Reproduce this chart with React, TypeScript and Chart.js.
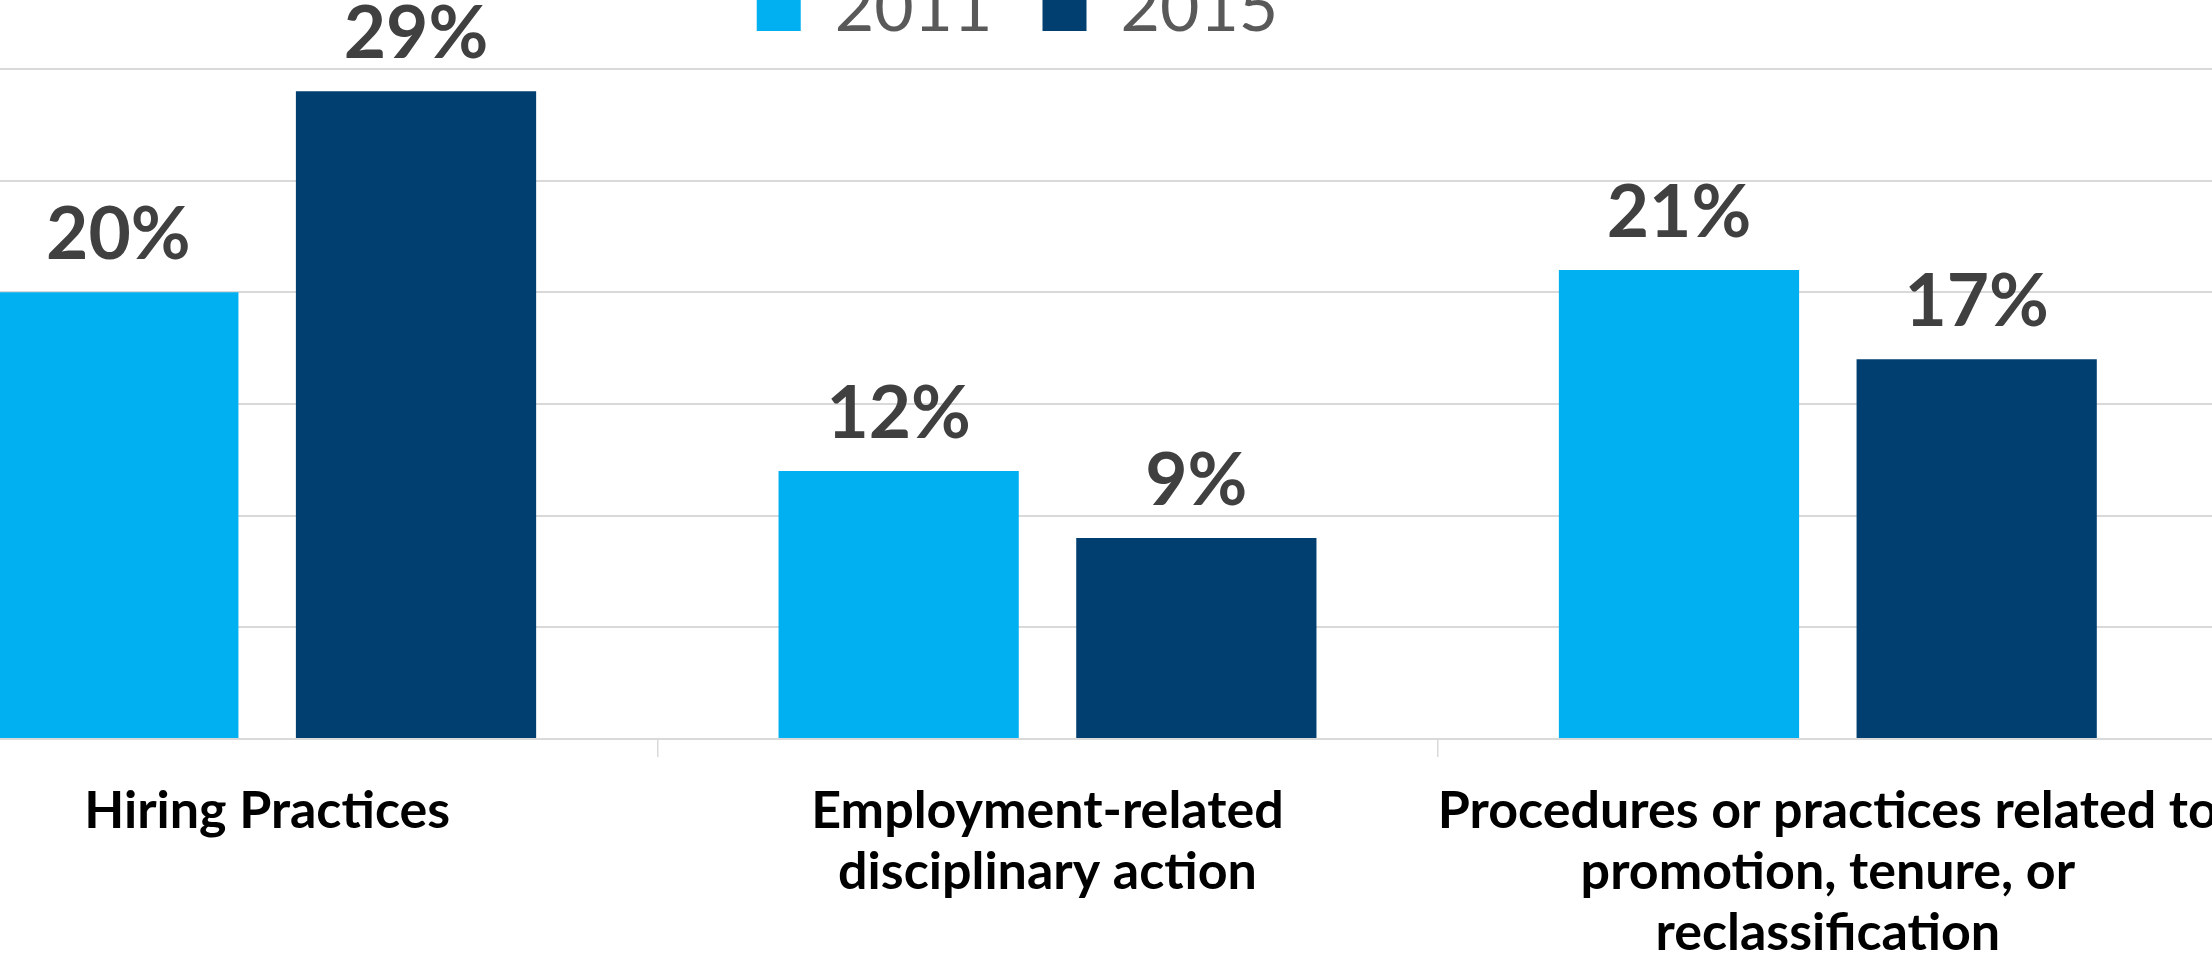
import React, { useEffect, useRef } from "react";
import { Chart, registerables } from "chart.js";

Chart.register(...registerables);

const categories: string[][] = [
  ["Hiring Practices"],
  ["Employment-related", "disciplinary action"],
  ["Procedures or practices related to", "promotion, tenure, or", "reclassification"],
];
const seriesNames = ["2011", "2015"];
const values2011 = [20, 12, 21];
const values2015 = [29, 9, 17];
const yMin = 0;
const yMax = 30;
const yStep = 5;

const COLORS = ["#00B0F0", "#023F71"];

const CANVAS_LEFT = -123;
const CANVAS_TOP = -75;
const CANVAS_W = 2341;
const CANVAS_H = 1063;
const LEGEND_SHIFT_X = -30;

const legendSpacer = {
  id: "legendSpacer",
  beforeInit(chart: any) {
    const legend = chart.legend;
    if (!legend) return;
    const originalFit = legend.fit;
    legend.fit = function fit() {
      originalFit.call(this);
      this.height += 16;
    };
  },
  afterLayout(chart: any) {
    const legend = chart.legend;
    if (!legend) return;
    legend.left += LEGEND_SHIFT_X;
    legend.right += LEGEND_SHIFT_X;
  },
};

const valueLabels = {
  id: "valueLabels",
  afterDatasetsDraw(chart: any) {
    const ctx = chart.ctx;
    ctx.save();
    ctx.font = "bold 73px Lato";
    ctx.fillStyle = "#404040";
    ctx.textAlign = "center";
    ctx.textBaseline = "alphabetic";
    chart.data.datasets.forEach((ds: any, i: number) => {
      const meta = chart.getDatasetMeta(i);
      meta.data.forEach((el: any, j: number) => {
        ctx.fillText(ds.data[j] + "%", el.x, el.y - 33);
      });
    });
    ctx.restore();
  },
};

export default function App() {
  const ref = useRef<HTMLCanvasElement | null>(null);

  useEffect(() => {
    if (!ref.current) return;
    const chart = new Chart(ref.current, {
      type: "bar",
      data: {
        labels: categories,
        datasets: [
          {
            label: seriesNames[0],
            data: values2011,
            backgroundColor: COLORS[0],
            categoryPercentage: 0.763,
            barPercentage: 0.807,
          },
          {
            label: seriesNames[1],
            data: values2015,
            backgroundColor: COLORS[1],
            categoryPercentage: 0.763,
            barPercentage: 0.807,
          },
        ],
      },
      options: {
        responsive: false,
        animation: false,
        layout: { padding: 0 },
        plugins: {
          legend: {
            display: true,
            position: "top",
            labels: {
              boxWidth: 44,
              boxHeight: 44,
              padding: 50,
              color: "#595959",
              font: { family: "Lato", size: 68, weight: "normal" },
            },
          },
          tooltip: { enabled: false },
        },
        scales: {
          x: {
            grid: {
              display: true,
              drawOnChartArea: false,
              drawTicks: true,
              tickLength: 18,
              color: "#d9d9d9",
              lineWidth: 1.5,
              offset: true,
            },
            border: { display: false },
            ticks: {
              color: "#000000",
              padding: 24,
              autoSkip: false,
              maxRotation: 0,
              minRotation: 0,
              font: { family: "Lato", size: 52, weight: "bold", lineHeight: 61 / 52 },
            },
            afterFit(scale: any) {
              scale.paddingLeft = 0;
              scale.paddingRight = 0;
            },
          },
          y: {
            min: yMin,
            max: yMax,
            ticks: { display: false, stepSize: yStep },
            grid: { color: "#d9d9d9", lineWidth: 2, drawTicks: false },
            border: { display: false },
          },
        },
      },
      plugins: [legendSpacer, valueLabels],
    });
    return () => chart.destroy();
  }, []);

  return (
    <div
      style={{
        position: "fixed",
        left: 0,
        top: 0,
        width: 2212,
        height: 962,
        overflow: "hidden",
        background: "#ffffff",
      }}
    >
      <canvas
        ref={ref}
        width={CANVAS_W}
        height={CANVAS_H}
        style={{
          position: "absolute",
          left: CANVAS_LEFT,
          top: CANVAS_TOP,
          width: CANVAS_W,
          height: CANVAS_H,
        }}
      />
    </div>
  );
}
